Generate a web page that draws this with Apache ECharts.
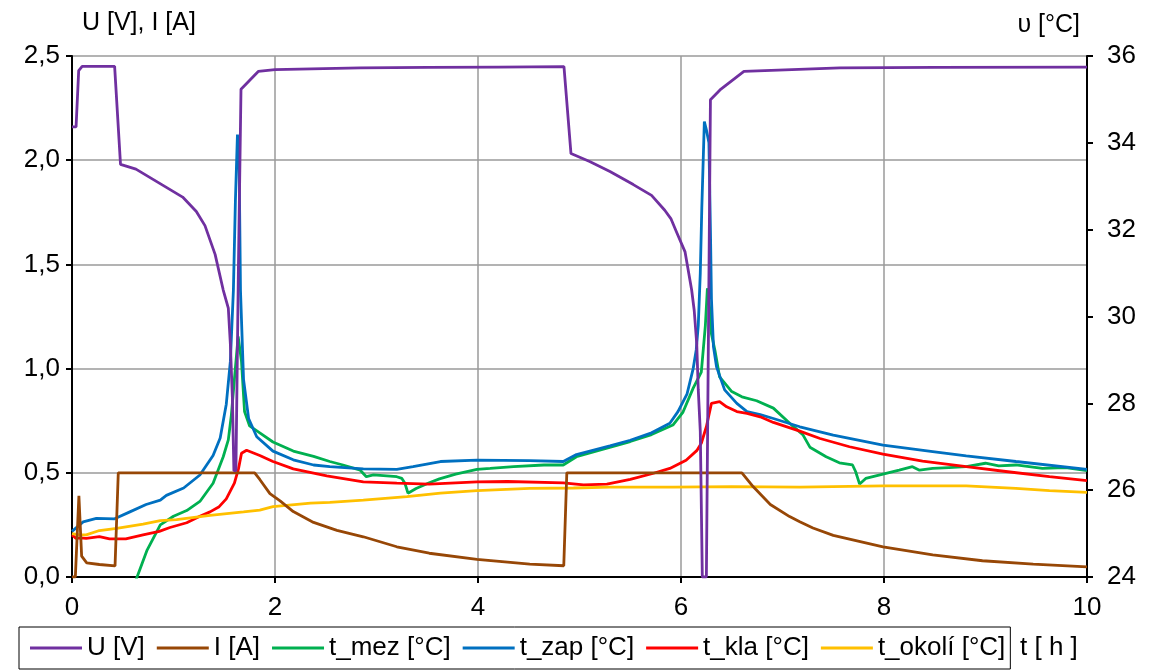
<!DOCTYPE html>
<html>
<head>
<meta charset="utf-8">
<script src="https://cdn.jsdelivr.net/npm/echarts@6/dist/echarts.min.js"></script>
<style>
html,body{margin:0;padding:0;background:#fff;}
#chart{width:1151px;height:671px;}
</style>
</head>
<body>
<div id="chart"></div>
<script>
// Series names (legend order)
var seriesNames = ['U [V]', 'I [A]', 't_mez [°C]', 't_zap [°C]', 't_kla [°C]', 't_okolí [°C]'];

// [t (h), value]
var uData = [[0,2.16],[0.04,2.16],[0.066,2.43],[0.1,2.45],[0.42,2.45],[0.478,1.98],[0.63,1.957],[0.86,1.89],[1.09,1.823],[1.225,1.754],[1.31,1.686],[1.41,1.548],[1.49,1.377],[1.54,1.29],[1.56,1.12],[1.58,0.862],[1.595,0.51],[1.615,0.51],[1.64,1.5],[1.665,2.34],[1.835,2.426],[2.0,2.435],[2.84,2.443],[3.5,2.445],[4.2,2.447],[4.847,2.449],[4.916,2.032],[5.1,1.994],[5.3,1.946],[5.53,1.883],[5.71,1.831],[5.84,1.76],[5.9,1.72],[5.96,1.651],[6.04,1.56],[6.105,1.377],[6.13,1.28],[6.155,1.12],[6.17,0.9],[6.19,0.7],[6.21,0.0],[6.25,0.0],[6.29,2.29],[6.384,2.337],[6.62,2.426],[7.566,2.443],[8.5,2.445],[10,2.447]];

var iData = [[0,0],[0.033,0],[0.068,0.39],[0.095,0.1],[0.145,0.068],[0.27,0.06],[0.424,0.053],[0.456,0.5],[1.8,0.5],[1.85,0.468],[1.95,0.4],[2.05,0.365],[2.18,0.314],[2.38,0.262],[2.61,0.224],[2.87,0.193],[3.2,0.145],[3.52,0.114],[3.99,0.085],[4.51,0.062],[4.845,0.054],[4.875,0.5],[6.6,0.5],[6.71,0.434],[6.88,0.348],[7.07,0.29],[7.17,0.265],[7.3,0.235],[7.5,0.2],[7.99,0.145],[8.48,0.106],[8.97,0.078],[9.47,0.062],[10,0.049]];

var mezData = [[0.6,23.7],[0.63,23.93],[0.74,24.62],[0.87,25.2],[1.0,25.4],[1.13,25.53],[1.26,25.74],[1.39,26.16],[1.49,26.77],[1.54,27.16],[1.57,27.73],[1.6,28.55],[1.637,29.54],[1.67,28.96],[1.7,27.81],[1.75,27.48],[1.85,27.32],[1.98,27.11],[2.18,26.9],[2.38,26.78],[2.54,26.66],[2.67,26.58],[2.84,26.46],[2.9,26.31],[2.97,26.35],[3.2,26.31],[3.25,26.27],[3.28,26.16],[3.31,25.93],[3.39,26.04],[3.52,26.17],[3.62,26.26],[3.78,26.37],[3.99,26.48],[4.12,26.5],[4.35,26.54],[4.65,26.58],[4.84,26.58],[4.97,26.77],[5.27,26.97],[5.5,27.12],[5.71,27.28],[5.92,27.5],[6.02,27.8],[6.12,28.35],[6.2,28.72],[6.24,29.79],[6.26,30.65],[6.286,30.12],[6.3,29.6],[6.335,29.21],[6.38,28.61],[6.5,28.27],[6.6,28.15],[6.745,28.06],[6.91,27.89],[7.1,27.48],[7.2,27.28],[7.27,26.99],[7.43,26.77],[7.56,26.63],[7.69,26.58],[7.72,26.43],[7.76,26.14],[7.82,26.27],[7.99,26.37],[8.15,26.46],[8.28,26.54],[8.35,26.46],[8.48,26.5],[8.64,26.52],[8.81,26.54],[9.0,26.62],[9.13,26.56],[9.3,26.58],[9.56,26.5],[9.79,26.52],[10,26.45]];

var zapData = [[0,25.05],[0.11,25.27],[0.24,25.35],[0.42,25.34],[0.57,25.5],[0.73,25.67],[0.87,25.77],[0.93,25.88],[1.1,26.05],[1.26,26.35],[1.39,26.8],[1.46,27.2],[1.52,27.98],[1.56,28.96],[1.59,30.6],[1.61,32.67],[1.63,34.19],[1.645,33.9],[1.66,30.6],[1.69,28.55],[1.74,27.65],[1.82,27.23],[1.98,26.9],[2.18,26.7],[2.38,26.58],[2.54,26.54],[2.87,26.49],[3.2,26.48],[3.36,26.54],[3.63,26.66],[3.99,26.69],[4.51,26.68],[4.84,26.66],[4.97,26.82],[5.3,27.02],[5.5,27.15],[5.71,27.32],[5.89,27.54],[5.97,27.81],[6.06,28.22],[6.12,28.8],[6.15,29.23],[6.17,29.79],[6.19,31.0],[6.205,32.5],[6.23,34.49],[6.25,34.3],[6.275,34.0],[6.29,32.0],[6.3,30.4],[6.32,29.3],[6.35,28.84],[6.43,28.31],[6.55,28.0],[6.65,27.81],[6.78,27.74],[6.91,27.65],[7.17,27.46],[7.5,27.27],[7.99,27.04],[8.48,26.89],[8.81,26.79],[9.3,26.66],[10,26.48]];

var klaData = [[0,24.97],[0.04,24.89],[0.08,24.9],[0.14,24.89],[0.27,24.93],[0.37,24.88],[0.53,24.88],[0.7,24.97],[0.86,25.05],[0.965,25.14],[1.13,25.25],[1.26,25.4],[1.36,25.5],[1.45,25.62],[1.52,25.8],[1.6,26.16],[1.64,26.49],[1.67,26.85],[1.72,26.92],[1.85,26.8],[1.98,26.66],[2.18,26.49],[2.51,26.33],[2.87,26.19],[3.2,26.16],[3.52,26.14],[3.99,26.19],[4.29,26.2],[4.84,26.17],[5.04,26.12],[5.27,26.14],[5.5,26.25],[5.73,26.39],[5.89,26.5],[6.05,26.69],[6.155,26.91],[6.2,27.08],[6.25,27.46],[6.3,28.0],[6.38,28.04],[6.45,27.92],[6.55,27.81],[6.65,27.77],[6.78,27.69],[6.91,27.56],[7.17,27.36],[7.37,27.19],[7.66,27.0],[7.99,26.83],[8.38,26.67],[8.81,26.54],[9.2,26.43],[9.63,26.31],[10,26.22]];

var okoliData = [[0,25.0],[0.07,24.97],[0.14,24.97],[0.27,25.07],[0.44,25.12],[0.7,25.22],[0.87,25.3],[1.03,25.32],[1.36,25.42],[1.69,25.5],[1.85,25.54],[1.98,25.62],[2.35,25.7],[2.54,25.72],[2.87,25.77],[3.3,25.85],[3.63,25.93],[3.99,25.99],[4.51,26.04],[4.94,26.05],[5.3,26.07],[5.92,26.07],[6.5,26.08],[7.17,26.07],[7.99,26.1],[8.81,26.1],[9.3,26.04],[9.63,25.99],[10,25.95]];

var seriesColors = ['#7030A0', '#974706', '#00B050', '#0070C0', '#FF0000', '#FFC000'];

var FONT = '"Liberation Sans", Arial, sans-serif';
var chart = echarts.init(document.getElementById('chart'));

function mk(i, data, axis, z) {
  return {
    name: seriesNames[i], type: 'line', data: data, yAxisIndex: axis,
    symbol: 'none', showSymbol: false, z: z, clip: true,
    lineStyle: { color: seriesColors[i], width: 2.8 },
    itemStyle: { color: seriesColors[i] }
  };
}

chart.setOption({
  animation: false,
  backgroundColor: '#fff',
  textStyle: { fontFamily: FONT },
  grid: { left: 72, right: 64, top: 56, bottom: 94, containLabel: false },
  legend: {
    data: seriesNames.map(function (n) { return { name: n, icon: 'rect' }; }),
    left: 19, top: 627,
    orient: 'horizontal',
    itemWidth: 52, itemHeight: 3, itemGap: 12,
    padding: [8, 5, 8, 11],
    borderColor: '#000', borderWidth: 1,
    textStyle: { fontSize: 26, color: '#000', fontFamily: FONT }
  },
  xAxis: {
    type: 'value', min: 0, max: 10, interval: 2,
    name: 't [ h ]', nameLocation: 'end', nameGap: -67,
    nameTextStyle: { fontSize: 26, color: '#000', fontFamily: FONT, verticalAlign: 'top', align: 'left', padding: [58, 0, 0, 0] },
    axisLine: { show: true, onZero: false, lineStyle: { color: '#000', width: 2 } },
    axisTick: { show: true, inside: false, length: 6, lineStyle: { color: '#000', width: 2 } },
    axisLabel: { fontSize: 26, color: '#000', margin: 18, fontFamily: FONT },
    splitLine: { show: true, lineStyle: { color: '#9a9a9a', width: 1.5 } }
  },
  yAxis: [
    {
      type: 'value', min: 0, max: 2.5, interval: 0.5, position: 'left',
      name: 'U [V], I [A]', nameLocation: 'end', nameGap: 20,
      nameTextStyle: { fontSize: 25, color: '#000', fontFamily: FONT, align: 'left', padding: [0, 0, 0, 10] },
      axisLine: { show: true, onZero: false, lineStyle: { color: '#000', width: 2 } },
      axisTick: { show: true, inside: false, length: 6, lineStyle: { color: '#000', width: 2 } },
      axisLabel: { fontSize: 26, color: '#000', margin: 12, fontFamily: FONT,
        formatter: function (v) { return v.toFixed(1).replace('.', ','); } },
      splitLine: { show: true, lineStyle: { color: '#9a9a9a', width: 1.5 } }
    },
    {
      type: 'value', min: 24, max: 36, interval: 2, position: 'right',
      name: 'υ [°C]', nameLocation: 'end', nameGap: 18,
      nameTextStyle: { fontSize: 25, color: '#000', fontFamily: FONT, align: 'right', padding: [0, 7, 0, 0] },
      axisLine: { show: true, onZero: false, lineStyle: { color: '#000', width: 2 } },
      axisTick: { show: true, inside: false, length: 6, lineStyle: { color: '#000', width: 2 } },
      axisLabel: { fontSize: 26, color: '#000', margin: 20, fontFamily: FONT },
      splitLine: { show: false }
    }
  ],
  series: [
    mk(2, mezData, 1, 2),
    mk(3, zapData, 1, 3),
    mk(4, klaData, 1, 4),
    mk(5, okoliData, 1, 5),
    mk(1, iData, 0, 6),
    mk(0, uData, 0, 7)
  ]
});
</script>
</body>
</html>
